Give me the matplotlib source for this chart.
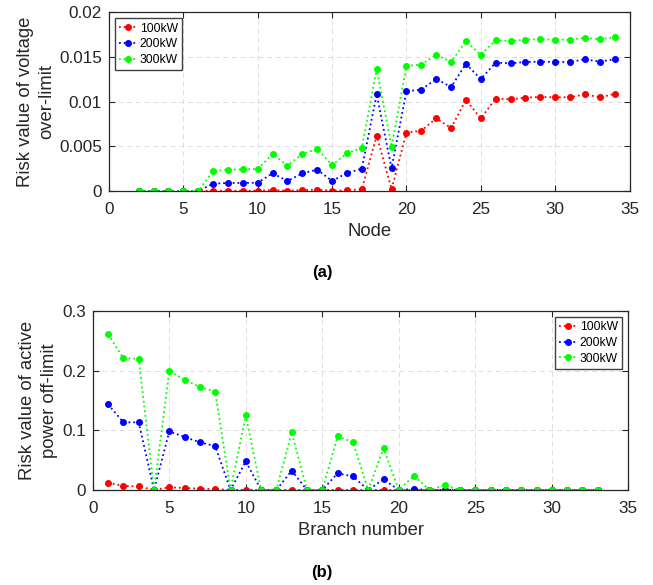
"""
Risk value of voltage over-limit (a) and active power off-limit (b) for three PV capacities.
Output: out.png
"""
import matplotlib
matplotlib.use("Agg")
import matplotlib.pyplot as plt
from matplotlib.ticker import FixedLocator, FixedFormatter

plt.rcParams["font.family"] = ["Liberation Sans", "DejaVu Sans"]

# (a) voltage over-limit, nodes 2..34
NODES = list(range(2, 35))
V_100 = [0, 0, 0, 0, 0, 0.00002, 0.00002, 0.00002, 0.00003, 0.0001, 0.00003, 0.0001,
         0.00015, 0.00003, 0.00008, 0.0002, 0.0062, 0.0002, 0.00653, 0.00675, 0.00813,
         0.00705, 0.01019, 0.00813, 0.01034, 0.01026, 0.01045, 0.01052, 0.01049,
         0.01049, 0.01082, 0.01049, 0.01086]
V_200 = [0, 0, 0, 0, 0, 0.00082, 0.0009, 0.0009, 0.00093, 0.00198, 0.00112, 0.00198,
         0.00239, 0.00112, 0.00201, 0.0025, 0.01082, 0.00254, 0.01116, 0.01134, 0.01254,
         0.01164, 0.01422, 0.01254, 0.01437, 0.01429, 0.01444, 0.01448, 0.01444,
         0.01444, 0.01474, 0.01448, 0.01474]
V_300 = [0, 0, 0, 0, 0, 0.00224, 0.00239, 0.00243, 0.00246, 0.00414, 0.00284, 0.00414,
         0.0047, 0.00291, 0.00422, 0.00481, 0.01366, 0.00493, 0.01399, 0.01414, 0.01526,
         0.01444, 0.01675, 0.01526, 0.01687, 0.01679, 0.01694, 0.01698, 0.01694,
         0.01694, 0.01716, 0.01698, 0.0172]

# (b) active power off-limit, branches 1..33
BRANCHES = list(range(1, 34))
P_100 = [0.0123, 0.0067, 0.0061, 0, 0.0045, 0.0034, 0.0022, 0.0017, 0, 0.0003, 0, 0,
         0.0002, 0, 0, 0.0001, 0.0001, 0, 0.0001, 0, 0, 0, 0, 0, 0, 0, 0, 0, 0, 0, 0, 0, 0]
P_200 = [0.1436, 0.1134, 0.1134, 0, 0.0983, 0.0888, 0.0799, 0.0737, 0, 0.048, 0, 0,
         0.0324, 0, 0, 0.0279, 0.0229, 0, 0.0179, 0, 0.0017, 0, 0.0003, 0, 0, 0, 0, 0,
         0, 0, 0, 0, 0]
P_300 = [0.2609, 0.2207, 0.2201, 0, 0.1994, 0.1849, 0.1726, 0.1648, 0, 0.1251, 0, 0,
         0.0966, 0, 0, 0.0899, 0.0804, 0, 0.0698, 0, 0.024, 0, 0.0078, 0, 0, 0, 0, 0,
         0, 0, 0, 0, 0]

LABELS = ["100kW", "200kW", "300kW"]
COLORS = ["#ff0000", "#0000ff", "#00ff00"]
TEXT = "#262626"


def style_axes(ax, yticks, yticklabels):
    ax.set_xlim(0, 35)
    ax.set_xticks(range(0, 36, 5))
    ax.set_ylim(yticks[0], yticks[-1])
    ax.yaxis.set_major_locator(FixedLocator(yticks))
    ax.yaxis.set_major_formatter(FixedFormatter(yticklabels))
    ax.tick_params(direction="in", top=True, right=True, labelsize=12.3,
                   colors=TEXT, length=4, width=0.8)
    ax.tick_params(axis="x", pad=8)
    ax.tick_params(axis="y", pad=5)
    ax.grid(True, linestyle=(0, (5, 4)), color="#dcdcdc", linewidth=0.7)
    for s in ax.spines.values():
        s.set_color("#262626")
        s.set_linewidth(0.9)


def draw(ax, x, series, loc):
    for ys, lab, col in zip(series, LABELS, COLORS):
        ax.plot(x, ys, linestyle=":", marker="o", markersize=4, color=col,
                linewidth=1.3, label=lab)
    leg = ax.legend(loc=loc, fontsize=8.7, fancybox=False, framealpha=1,
                    edgecolor="#404040", handlelength=1.5, handletextpad=0.2,
                    borderpad=0.35, labelspacing=0.3, borderaxespad=0.5)
    leg.get_frame().set_linewidth(1.0)


fig = plt.figure(figsize=(6.53, 5.85), dpi=100)

ax1 = fig.add_axes([109 / 653, 1 - 191 / 585, 520.5 / 653, 178.7 / 585])
draw(ax1, NODES, [V_100, V_200, V_300], "upper left")
style_axes(ax1, [0, 0.005, 0.01, 0.015, 0.02], ["0", "0.005", "0.01", "0.015", "0.02"])
ax1.set_xlabel("Node", fontsize=13.3, color=TEXT, labelpad=4)
ax1.set_ylabel("Risk value of voltage\nover-limit", fontsize=13.3, color=TEXT,
               linespacing=1.35, labelpad=3)

ax2 = fig.add_axes([92.8 / 653, 1 - 490 / 585, 535.5 / 653, 179 / 585])
draw(ax2, BRANCHES, [P_100, P_200, P_300], "upper right")
style_axes(ax2, [0, 0.1, 0.2, 0.3], ["0", "0.1", "0.2", "0.3"])
ax2.set_xlabel("Branch number", fontsize=13.3, color=TEXT, labelpad=4)
ax2.set_ylabel("Risk value of active\npower off-limit", fontsize=13.3, color=TEXT,
               linespacing=1.35, labelpad=3)

fig.text(322 / 653, 1 - 272 / 585, "(a)", ha="center", va="center",
         fontsize=12, fontweight="bold", color="black")
fig.text(322 / 653, 1 - 572 / 585, "(b)", ha="center", va="center",
         fontsize=12, fontweight="bold", color="black")

fig.savefig("out.png", dpi=100)
plt.close(fig)
